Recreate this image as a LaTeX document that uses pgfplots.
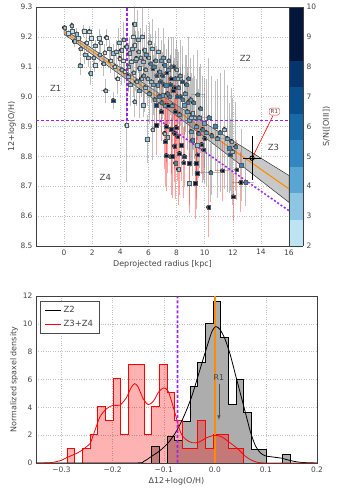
\documentclass[border=0pt]{standalone}
\usepackage{fontspec}
\setmainfont{DejaVu Sans}
\usepackage{pgfplots}
\usepackage{pgfplotstable}
\pgfplotsset{compat=1.18}

\definecolor{violetline}{RGB}{160,32,240}
\definecolor{fitorange}{HTML}{FF8C00}
\definecolor{bandgray}{HTML}{C8C8C8}
\definecolor{histgray}{HTML}{ADADAD}
\definecolor{txt}{HTML}{444444}

\pgfplotsset{
  every axis/.append style={
    /pgf/number format/assume math mode=true,
    tick label style={font=\fontsize{7.5}{9}\selectfont, text=txt},
    label style={font=\fontsize{8}{9.5}\selectfont, text=txt},
    axis line style={black!75, line width=0.7pt},
    tick style={draw=none},
    grid=major,
    grid style={dotted, gray!50, line width=0.45pt},
    scale only axis,
  },
  zoneline/.style={draw=violetline, color=violetline, line width=1.8pt,
    dash pattern=on 3pt off 2pt, line cap=butt, mark=none},
}

% points with grey error bars: x y ex ey S/N
\pgfplotstableread{
x y ex ey c
0.02 9.231 0 0.010 3.2
0.30 9.212 0 0.012 2.5
0.55 9.238 0 0.012 3.2
0.57 9.220 0 0.015 2.5
0.73 9.185 0 0.020 3.5
0.90 9.210 0 0.020 3.2
1.00 9.195 0.3 0.020 2.5
1.13 9.104 0 0.030 3.2
1.18 9.160 0 0.025 3.5
1.41 9.220 0 0.020 2.5
1.48 9.140 0 0.030 3.2
1.60 9.180 0 0.030 2.5
1.72 9.130 0 0.030 3.2
1.79 9.218 0 0.020 2.5
1.88 9.078 0 0.040 3.2
1.91 9.195 0 0.030 2.5
2.10 9.130 0 0.030 3.2
2.19 9.106 0 0.025 2.5
2.20 9.170 0 0.020 3.2
2.50 9.195 0 0.030 2.5
2.54 9.140 0 0.025 3.2
2.60 9.180 0 0.030 2.5
2.80 9.110 0 0.040 3.2
2.90 9.147 0 0.030 2.5
2.95 9.020 0.3 0.040 3.2
3.01 9.198 0 0.030 2.5
3.20 9.160 0 0.030 3.2
3.30 9.120 0 0.040 2.5
3.49 8.987 0 0.030 7.5
3.49 9.145 0 0.030 3.2
3.60 9.100 0 0.040 2.5
3.70 9.150 0 0.040 3.2
3.80 9.060 0 0.050 2.5
3.90 9.180 0 0.050 3.2
3.96 9.128 0 0.030 2.5
4.08 9.156 0 0.040 3.2
4.10 9.090 0 0.050 3.5
4.20 9.120 0 0.050 2.5
4.25 9.190 0 0.060 3.2
4.31 9.084 0 0.040 2.5
4.43 9.167 0 0.040 3.2
4.45 8.905 0 0.190 2.5
4.55 9.067 0 0.050 3.2
4.60 9.100 0 0.080 3.5
4.66 9.145 0 0.050 3.5
4.70 9.040 0 0.070 3.5
4.78 9.117 0 0.050 2.5
4.85 9.160 0 0.090 3.2
4.90 9.200 0 0.050 2.5
4.95 9.080 0 0.080 3.5
5.00 9.243 0 0.060 3.2
5.02 9.173 0 0.050 2.5
5.02 8.983 0 0.050 3.2
5.05 9.120 0 0.100 4.5
5.13 9.128 0 0.050 3.5
5.15 9.050 0 0.080 3.5
5.25 9.190 0 0.100 3.5
5.30 9.150 0 0.070 3.5
5.35 9.020 0 0.090 4.5
5.37 9.095 0 0.050 3.5
5.45 9.130 0 0.100 3.5
5.50 9.060 0 0.060 3.5
5.55 9.200 0 0.100 3.2
5.61 9.117 0 0.050 3.5
5.61 8.972 0 0.040 3.5
5.65 9.070 0 0.090 4.5
5.72 9.156 0 0.060 3.5
5.75 9.030 0 0.080 3.5
5.80 9.090 0 0.060 3.5
5.85 9.140 0 0.100 4.5
5.90 8.857 0 0.080 3.5
5.95 9.060 0 0.090 3.5
6.00 9.130 0 0.060 3.5
6.05 9.010 0 0.100 4.5
6.10 9.180 0 0.070 3.5
6.15 9.110 0 0.100 5.5
6.20 9.050 0 0.070 3.5
6.25 9.160 0 0.100 3.5
6.31 9.095 0 0.060 8.5
6.31 8.889 0 0.100 3.2
6.35 9.040 0 0.100 4.5
6.40 9.100 0 0.080 5.5
6.45 8.990 0 0.090 4.5
6.50 9.120 0 0.100 4.5
6.55 8.972 0 0.060 7.5
6.60 9.070 0 0.100 6.5
6.67 9.039 0 0.070 4.5
6.70 9.150 0 0.080 3.5
6.75 9.000 0 0.100 5.5
6.78 9.083 0 0.060 4.5
6.85 9.050 0 0.100 6.5
6.90 9.120 0 0.070 4.5
6.95 8.980 0 0.100 5.5
7.00 9.070 0 0.080 6.5
7.02 9.005 0 0.080 4.5
7.05 9.130 0 0.100 4.5
7.10 9.040 0 0.100 7.5
7.14 9.106 0 0.070 5.5
7.20 8.970 0 0.100 4.5
7.26 9.039 0 0.070 5.5
7.30 9.080 0 0.080 9.5
7.35 9.010 0 0.100 5.5
7.40 9.090 0 0.100 4.5
7.45 9.120 0 0.080 4.5
7.50 9.000 0 0.090 5.5
7.55 9.040 0 0.100 6.5
7.60 9.060 0 0.080 9.5
7.65 9.100 0 0.100 5.5
7.70 8.970 0 0.090 4.5
7.75 9.020 0 0.100 8.5
7.80 9.100 0 0.100 7.5
7.85 9.030 0 0.100 9.5
7.90 9.060 0 0.100 5.5
8.00 9.090 0 0.100 3.5
8.05 9.000 0 0.120 6.5
8.08 9.060 0.4 0.100 3.2
8.15 9.030 0 0.120 4.5
8.20 8.940 0 0.100 4.5
8.25 9.070 0 0.120 4.5
8.30 9.000 0 0.100 6.5
8.40 9.050 0 0.120 6.5
8.45 8.990 0 0.120 5.5
8.55 8.972 0 0.100 4.5
8.60 9.010 0 0.130 4.5
8.70 9.040 0 0.100 5.5
8.75 8.950 0 0.130 4.5
8.80 8.980 0 0.120 5.5
8.85 9.060 0 0.140 5.5
8.91 8.922 0 0.120 4.5
9.00 8.990 0 0.140 4.5
9.02 8.883 0 0.120 4.5
9.05 8.930 0 0.150 3.5
9.14 8.944 0 0.120 3.2
9.14 8.855 0 0.120 5.5
9.20 8.980 0 0.160 5.5
9.30 8.930 0 0.140 3.5
9.40 8.900 0 0.160 4.5
9.45 8.838 0 0.120 3.5
9.50 9.006 0.5 0.150 5.5
9.57 8.877 0 0.150 5.5
9.60 8.930 0.6 0.170 4.5
9.70 8.960 0 0.150 5.5
9.85 8.890 0 0.180 5.5
9.97 8.911 0 0.150 4.5
10.00 8.860 0 0.150 8.5
10.10 8.880 0 0.180 4.5
10.30 8.930 0 0.200 5.5
10.44 8.746 0.8 0.100 5.5
10.50 8.870 0 0.200 5.5
10.74 8.902 0 0.150 5.5
10.90 8.860 0.5 0.200 4.5
11.10 8.880 0 0.200 5.5
11.40 8.890 0 0.200 3.5
11.60 8.860 0 0.180 4.5
11.73 8.827 0 0.150 5.5
11.80 8.805 0 0.120 6.5
11.92 8.850 0 0.180 3.5
11.97 8.816 0 0.180 3.2
12.20 8.833 0 0.150 5.5
12.60 8.770 0 0.120 5.5
12.91 8.713 0.6 0.080 5.5
}\zonetwo

% points with red error bars (Z3+Z4)
\pgfplotstableread{
x y ex ey c
6.55 8.905 0 0.10 9.5
6.90 8.950 0 0.10 9.5
7.14 8.877 0 0.12 3.5
7.20 8.850 0 0.15 9.5
7.26 8.900 0 0.12 9.5
7.26 8.803 0 0.12 9.5
7.38 8.864 0 0.12 3.5
7.40 8.970 0 0.10 9.5
7.61 8.891 0 0.15 9.5
7.61 8.800 0 0.13 3.5
7.68 8.801 0 0.14 9.5
7.85 8.877 0 0.12 9.5
7.85 8.835 0 0.12 9.5
7.90 8.950 0 0.12 8.5
7.92 8.778 0 0.12 5.5
7.96 8.897 0 0.14 9.5
8.08 8.866 0 0.15 9.5
8.13 8.757 0 0.12 3.5
8.20 8.810 0 0.14 9.5
8.32 8.838 0 0.12 9.5
8.51 8.779 0 0.12 9.5
8.55 8.800 0 0.10 7.5
8.91 8.777 0 0.14 9.5
8.91 8.710 0 0.10 3.5
9.33 8.710 0 0.12 9.5
9.38 8.777 0 0.12 9.5
9.45 8.744 0 0.12 9.5
9.50 8.805 0 0.10 9.5
9.78 8.840 0 0.10 9.5
9.92 8.822 0 0.10 9.5
10.27 8.630 0 0.10 9.5
11.26 8.752 0.5 0.10 9.5
12.04 8.665 0 0.08 9.5
12.28 8.755 0 0.10 9.5
12.56 8.713 0.6 0.10 9.5
}\zonethree

% histograms: left bin edge, normalized density
\pgfplotstableread{
x h
-0.1386 0
-0.1236 1.2
-0.1085 0
-0.0935 1.9
-0.0784 1.6
-0.0634 3.0
-0.0484 5.5
-0.0333 7.2
-0.0183 10.0
-0.0032 11.6
0.0118 9.0
0.0268 4.2
0.0419 6.0
0.0569 3.6
0.0720 1.0
0.0870 1.0
0.1020 0
0.1171 0
0.1321 0.6
0.1472 0.6
}\histtwo

\pgfplotstableread{
x h
-0.2890 1.01
-0.2740 0
-0.2589 1.01
-0.2439 2.03
-0.2288 4.05
-0.2138 3.04
-0.1988 6.08
-0.1837 2.03
-0.1687 7.10
-0.1536 7.10
-0.1386 2.03
-0.1236 4.05
-0.1085 7.10
-0.0935 5.07
-0.0784 3.04
-0.0634 1.01
-0.0484 1.01
-0.0333 3.04
-0.0183 1.01
-0.0032 2.03
0.0118 2.03
0.0268 1.01
0.0419 1.01
0.0569 1.01
}\histthree

\begin{document}
\begin{tikzpicture}
\useasboundingbox (0,0) rectangle (348bp,491bp);

\begin{axis}[
  at={(36bp,245bp)}, anchor=south west,
  width=253bp, height=239bp,
  xmin=-2, xmax=16, ymin=8.5, ymax=9.3,
  xtick={0,2,...,16},
  ytick={8.5,8.6,...,9.3},
  yticklabel style={/pgf/number format/.cd, fixed, fixed zerofill, precision=1},
  xlabel={Deprojected radius [kpc]},
  ylabel={12+log(O/H)},
  xlabel style={yshift=2bp},
  ylabel style={yshift=-2bp},
  colormap={sn}{rgb255=(190,228,243) rgb255=(140,198,226) rgb255=(90,165,210)
    rgb255=(50,135,192) rgb255=(24,105,165) rgb255=(10,78,140) rgb255=(6,52,108)
    rgb255=(3,22,60) rgb255=(3,22,60)},
  colormap access=piecewise constant,
  point meta min=2, point meta max=10,
  colorbar,
  colorbar style={
    at={(1,1)}, anchor=north west, xshift=14bp,
    width=14bp, height=239bp, scale only axis,
    ytick={2,3,...,10},
    grid=none,
    axis line style={black!75, line width=0.6pt},
    yticklabel style={font=\fontsize{7.5}{9}\selectfont, text=txt},
    ylabel={S/N([OIII])},
    ylabel style={font=\fontsize{8}{9.5}\selectfont, text=txt},
  },
]
% fit uncertainty band and fit
\addplot[fill=bandgray, draw=black!80, line width=0.5pt, forget plot] coordinates {
  (0,9.225) (4,9.097) (8,8.972) (12,8.852) (16,8.736)
  (16,8.646) (12,8.792) (8,8.936) (4,9.073) (0,9.209)} -- cycle;
\addplot[fitorange, line width=1.1pt, forget plot] coordinates {(0,9.217) (16,8.691)};

% error bars
\addplot[only marks, mark=none, forget plot,
  error bars/.cd, x dir=both, x explicit, y dir=both, y explicit,
  error mark=none,
  error bar style={gray, opacity=0.5, line width=0.9pt}]
  table[x=x, y=y, x error=ex, y error=ey] {\zonetwo};
\addplot[only marks, mark=none, forget plot,
  error bars/.cd, x dir=both, x explicit, y dir=both, y explicit,
  error mark=none,
  error bar style={red!80, opacity=0.45, line width=0.9pt}]
  table[x=x, y=y, x error=ex, y error=ey] {\zonethree};

% markers coloured by S/N
\addplot[scatter, only marks, mark=square*, mark size=1.75pt,
  scatter/use mapped color={draw=black!65, fill=mapped color},
  mark options={line width=0.25pt}, point meta=explicit]
  table[x=x, y=y, meta=c] {\zonetwo};
\addplot[scatter, only marks, mark=square*, mark size=1.75pt,
  scatter/use mapped color={draw=black!65, fill=mapped color},
  mark options={line width=0.25pt}, point meta=explicit]
  table[x=x, y=y, meta=c] {\zonethree};

% region R1
\addplot[red, line width=0.6pt] coordinates {(13.37,8.794) (14.85,8.935)};
\addplot[black, mark=o, mark size=2.2pt, line width=0.9pt,
  error bars/.cd, x dir=both, x explicit, y dir=both, y explicit,
  error mark=-, error bar style={black, line width=0.9pt},
  error mark options={black, mark size=2pt}]
  coordinates {(13.37,8.794) +- (0.47,0.067)};
\node[draw=red!85, rounded corners=2pt, fill=white, inner sep=1.5pt,
  font=\fontsize{5.5}{6}\selectfont, text=txt] at (axis cs:14.96,8.95) {R1};

% zone limits
\addplot[zoneline] coordinates {(4.5,8.92) (4.5,9.3)};
\addplot[zoneline] coordinates {(-2,8.92) (16,8.92)};
\addplot[zoneline, line width=1.5pt, dash pattern=on 2pt off 2pt] coordinates {(6.8,8.92) (16,8.618)};

\node[font=\fontsize{8.5}{10}\selectfont, text=txt] at (axis cs:-0.6,9.028) {Z1};
\node[font=\fontsize{8.5}{10}\selectfont, text=txt] at (axis cs:12.9,9.128) {Z2};
\node[font=\fontsize{8.5}{10}\selectfont, text=txt] at (axis cs:14.9,8.83) {Z3};
\node[font=\fontsize{8.5}{10}\selectfont, text=txt] at (axis cs:2.93,8.73) {Z4};
\end{axis}

\begin{axis}[
  at={(36bp,28bp)}, anchor=south west,
  width=281bp, height=167bp,
  xmin=-0.35, xmax=0.2, ymin=0, ymax=12,
  xtick={-0.3,-0.2,-0.1,0,0.1,0.2},
  xticklabels={−0.3,−0.2,−0.1,0.0,0.1,0.2},
  ytick={0,2,...,12},
  xlabel={Δ12+log(O/H)},
  ylabel={Normalized spaxel density},
  xlabel style={yshift=2bp},
  ylabel style={yshift=-2bp},
  legend style={at={(0.016,0.97)}, anchor=north west, draw=black!70,
    font=\fontsize{8.5}{10}\selectfont, text=txt, inner xsep=4pt, inner ysep=3pt,
    row sep=2pt, fill=white, line width=0.7pt},
  legend cell align=left,
  legend image code/.code={\draw[#1] (0bp,0bp) -- (16bp,0bp);},
]
\addplot[const plot, fill=histgray, draw=none, forget plot] table[x=x, y=h] {\histtwo} \closedcycle;
\addplot[const plot, fill=red, fill opacity=0.3, draw=none, forget plot] table[x=x, y=h] {\histthree} \closedcycle;
\addplot[const plot, black, line width=1pt, forget plot] table[x=x, y=h] {\histtwo} \closedcycle;
\addplot[const plot, red, line width=1pt, forget plot] table[x=x, y=h] {\histthree} \closedcycle;

\addplot[fitorange, line width=1.1pt, forget plot] coordinates {(0.0004,0) (0.0004,12)};

\addplot[black, smooth, line width=0.8pt] coordinates {
  (-0.35,0) (-0.16,0.0) (-0.14,0.1) (-0.127,0.4) (-0.107,0.9) (-0.09,1.5)
  (-0.075,2.3) (-0.06,3.4) (-0.045,4.8) (-0.03,6.6) (-0.015,8.4) (-0.005,9.5)
  (0.002,9.8) (0.01,9.6) (0.02,8.9) (0.03,7.8) (0.04,6.4) (0.05,5.0) (0.06,3.6)
  (0.07,2.2) (0.08,1.2) (0.09,0.7) (0.1,0.5) (0.11,0.45) (0.12,0.4) (0.13,0.35)
  (0.14,0.25) (0.155,0.12) (0.17,0.04) (0.2,0)};
\addlegendentry{Z2}
\addplot[red, smooth, line width=0.8pt] coordinates {
  (-0.35,0.0) (-0.32,0.03) (-0.30,0.2) (-0.289,0.4) (-0.27,0.7) (-0.259,0.95)
  (-0.25,1.2) (-0.244,1.4) (-0.235,2.3) (-0.225,3.3) (-0.212,3.9) (-0.199,4.15)
  (-0.186,4.15) (-0.173,4.7) (-0.164,5.4) (-0.157,5.7) (-0.15,5.45) (-0.14,4.6)
  (-0.13,4.2) (-0.12,4.45) (-0.11,5.1) (-0.1,5.4) (-0.092,5.2) (-0.086,4.6)
  (-0.078,3.6) (-0.067,2.2) (-0.057,1.7) (-0.044,1.45) (-0.031,1.5) (-0.018,1.78)
  (-0.005,1.96) (0.005,1.97) (0.015,1.85) (0.028,1.5) (0.044,1.05) (0.061,0.45)
  (0.077,0.12) (0.1,0.0) (0.2,0.0)};
\addlegendentry{Z3+Z4}

\draw[draw=violetline, line width=1.6pt, dash pattern=on 3pt off 2pt, line cap=butt]
  (axis cs:-0.073,0.02) -- (axis cs:-0.0731,11.98);
\node[font=\fontsize{8}{9.5}\selectfont, text=txt] at (axis cs:0.008,6.15) {R1};
\draw[-latex, black!70, line width=0.6pt] (axis cs:0.008,5.7) -- (axis cs:0.008,3.1);
\end{axis}
\end{tikzpicture}
\end{document}
